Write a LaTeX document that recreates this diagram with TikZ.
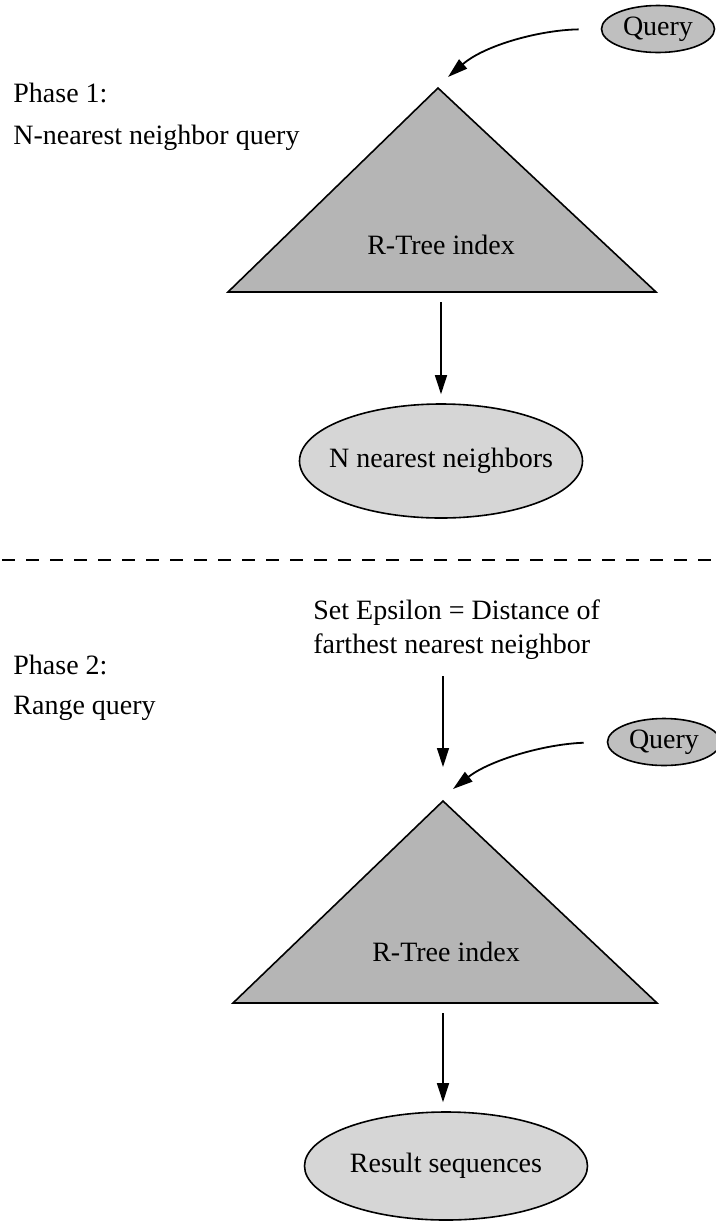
\documentclass[tikz,border=0pt]{standalone}
\usepackage{fontspec}
\setmainfont{Liberation Serif}
\usetikzlibrary{shapes.geometric,arrows.meta}
\definecolor{trifill}{gray}{0.71}
\definecolor{ellfill}{gray}{0.84}
\definecolor{qfill}{gray}{0.75}
\begin{document}
\begin{tikzpicture}[x=0.5pt,y=-0.5pt,
  font=\fontsize{14}{17}\selectfont,
  lbl/.style={inner sep=0pt, anchor=west},
  tri/.style={draw=black, line width=0.8pt, fill=trifill, line join=miter},
  bigell/.style={ellipse, draw=black, line width=0.8pt, fill=ellfill, minimum width=141.5pt, minimum height=57pt, inner xsep=-10pt, inner ysep=0pt},
  qell/.style={ellipse, draw=black, line width=0.8pt, fill=qfill, minimum width=56.5pt, minimum height=23.5pt, inner sep=0pt},
  arr/.style={-{Triangle[length=9.5pt,width=6pt]}, line width=0.65pt},
  carr/.style={-{Triangle[length=10pt,width=6pt]}, line width=0.9pt},
  sep/.style={line width=0.8pt, dash pattern=on 6.5pt off 5.5pt}
]
\useasboundingbox (0,0) rectangle (716,1222);

% ---------- Phase 1 ----------
\node[lbl] (p1) at (13,93) {Phase 1:};
\node[lbl] (p1b) at (13,138) {N-nearest neighbor query};
\node[qell] (q1) at (658,29) {Query};

\coordinate (t1a) at (438,88);
\coordinate (t1l) at (228,292);
\coordinate (t1r) at (656,292);
\coordinate (t1b) at (441,292);
\filldraw[tri] (t1a) -- (t1l) -- (t1r) -- cycle;
\node (r1) at (441,245) {R-Tree index};

\coordinate (t1in) at (448,77);
\draw[carr, shorten <=11pt] (q1.west) .. controls (540,30) and (485,45) .. (t1in);

\node[bigell] (n1) at (441,461) {N nearest neighbors};
\draw[arr, shorten <=5pt, shorten >=4.5pt] (t1b) -- (t1b |- n1.north);

% ---------- separator ----------
\coordinate (dl) at (2,560);
\coordinate (dr) at (716,560);
\draw[sep] (dl) -- (dr);

% ---------- Phase 2 ----------
\node[lbl, align=left] (eps) at (313,630) {Set Epsilon = Distance of\\farthest nearest neighbor};
\node[lbl] (p2) at (13,665) {Phase 2:};
\node[lbl] (p2b) at (13,708) {Range query};

\node[qell] (q2) at (664,742) {Query};

\coordinate (t2a) at (443,801);
\coordinate (t2l) at (233,1003);
\coordinate (t2r) at (657,1003);
\coordinate (t2b) at (443,1003);
\filldraw[tri] (t2a) -- (t2l) -- (t2r) -- cycle;
\node (r2) at (446,952) {R-Tree index};

\coordinate (a3s) at (443,676);
\coordinate (a3e) at (443,767);
\draw[arr] (a3s) -- (a3e);

\coordinate (t2in) at (453,789);
\draw[carr, shorten <=11.5pt] (q2.west) .. controls (545,744) and (490,760) .. (t2in);

\node[bigell, minimum height=54pt] (n2) at (446,1166) {Result sequences};
\draw[arr, shorten <=5pt, shorten >=4.5pt] (t2b) -- (t2b |- n2.north);
\end{tikzpicture}
\end{document}
